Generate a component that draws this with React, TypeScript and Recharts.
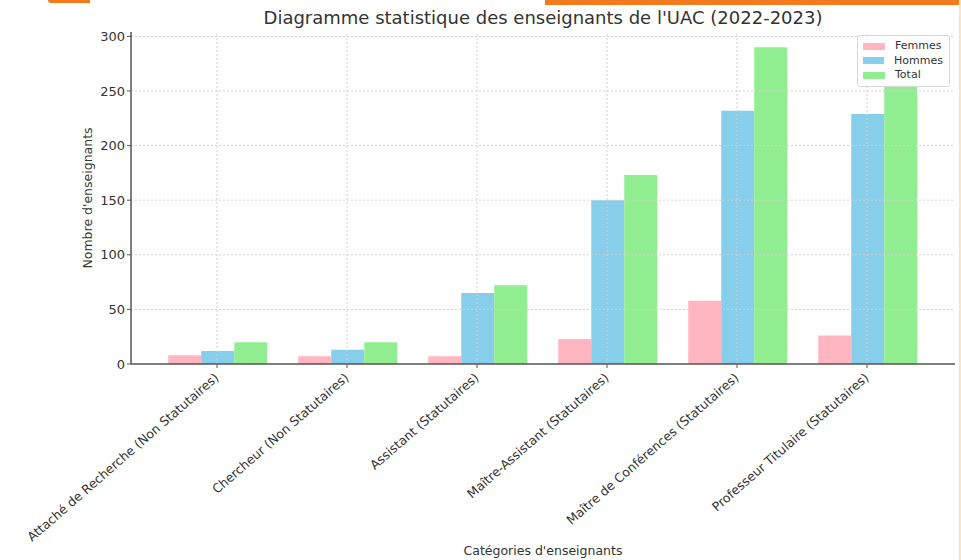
import React from 'react';
import { BarChart, Bar, XAxis, YAxis, ReferenceLine, Label } from 'recharts';

const categories = [
    'Attaché de Recherche (Non Statutaires)',
    'Chercheur (Non Statutaires)',
    'Assistant (Statutaires)',
    'Maître-Assistant (Statutaires)',
    'Maître de Conférences (Statutaires)',
    'Professeur Titulaire (Statutaires)',
];
const femmes = [8, 7, 7, 23, 58, 26];
const hommes = [12, 13, 65, 150, 232, 229];
const total = [20, 20, 72, 173, 290, 255];
const yTicks = [0, 50, 100, 150, 200, 250, 300];

const series = [
    { key: 'femmes', name: 'Femmes', color: '#ffb6c1' },
    { key: 'hommes', name: 'Hommes', color: '#87ceeb' },
    { key: 'total', name: 'Total', color: '#90ee90' },
];

const data = categories.map((c, i) => ({
    categorie: c,
    femmes: femmes[i],
    hommes: hommes[i],
    total: total[i],
}));

const FONT = '"DejaVu Sans", sans-serif';
const TEXT = '#333333';
const GRID = '#d0d0d0';

function CategoryTick(props: any) {
    const { x, y, payload } = props;
    return (
        <g transform={`translate(${x},${y + 6})`}>
            <text
                textAnchor="end"
                fontSize={12.5}
                fontFamily={FONT}
                fill={TEXT}
                transform="rotate(-41)"
                dy={4}
            >
                {payload.value}
            </text>
        </g>
    );
}

function LegendBox() {
    return (
        <div
            style={{
                position: 'absolute',
                left: 857,
                top: 35,
                width: 80,
                border: '1px solid #d8d8d8',
                borderRadius: 3,
                background: 'rgba(255,255,255,0.85)',
                padding: '3px 6px 3px 5px',
                fontFamily: FONT,
                fontSize: 11,
                color: TEXT,
                lineHeight: '14.5px',
                zIndex: 2,
            }}
        >
            {series.map((s) => (
                <div key={s.key} style={{ display: 'flex', alignItems: 'center' }}>
                    <span style={{ width: 22, height: 7, background: s.color, marginRight: 10 }} />
                    {s.name}
                </div>
            ))}
        </div>
    );
}

export default function App() {
    return (
        <div style={{ position: 'fixed', left: 0, top: 0, width: 961, height: 560, background: '#fff' }}>
            {/* page decorations around the picture */}
            <div style={{ position: 'absolute', left: 545, top: 0, width: 416, height: 5, background: '#f47a20' }} />
            <div style={{ position: 'absolute', left: 48, top: 0, width: 42, height: 3, background: '#f47a20', borderBottomLeftRadius: 20 }} />
            <div style={{ position: 'absolute', right: 0, top: 0, width: 2, height: 560, background: '#fbe3c4' }} />
            <div
                style={{
                    position: 'absolute',
                    left: 131,
                    width: 824,
                    top: 7,
                    textAlign: 'center',
                    fontFamily: FONT,
                    fontSize: 18,
                    color: TEXT,
                }}
            >
                Diagramme statistique des enseignants de l'UAC (2022-2023)
            </div>
            <BarChart
                width={961}
                height={560}
                data={data}
                margin={{ top: 32, right: 6, bottom: 0, left: 60 }}
                barCategoryGap="12.5%"
                barGap={0}
            >
                <XAxis
                    dataKey="categorie"
                    height={196}
                    interval={0}
                    padding={{ left: 21, right: 23 }}
                    tick={<CategoryTick />}
                    tickSize={4}
                    axisLine={{ stroke: '#555', strokeWidth: 1.5 }}
                    tickLine={{ stroke: '#555' }}
                >
                    <Label
                        value="Catégories d'enseignants"
                        position="insideBottom"
                        offset={5}
                        style={{ fontFamily: FONT, fontSize: 12.5, fill: TEXT }}
                    />
                </XAxis>
                <YAxis
                    width={71}
                    domain={[0, 304]}
                    ticks={yTicks}
                    tickSize={4}
                    tick={{ fontFamily: FONT, fontSize: 13, fill: TEXT }}
                    axisLine={{ stroke: '#555', strokeWidth: 1.5 }}
                    tickLine={{ stroke: '#555' }}
                    allowDataOverflow
                >
                    <Label
                        value="Nombre d'enseignants"
                        angle={-90}
                        position="insideLeft"
                        offset={28}
                        style={{ fontFamily: FONT, fontSize: 12.5, fill: TEXT, textAnchor: 'middle' }}
                    />
                </YAxis>
                {/* dotted grid at the ticks only */}
                {yTicks.filter((t) => t > 0).map((t) => (
                    <ReferenceLine key={'y' + t} y={t} stroke={GRID} strokeDasharray="2 2" />
                ))}
                {categories.map((c) => (
                    <ReferenceLine key={'x' + c} x={c} stroke={GRID} strokeDasharray="2 2" />
                ))}
                {series.map((s) => (
                    <Bar key={s.key} dataKey={s.key} name={s.name} fill={s.color} isAnimationActive={false} />
                ))}
            </BarChart>
            <LegendBox />
        </div>
    );
}
